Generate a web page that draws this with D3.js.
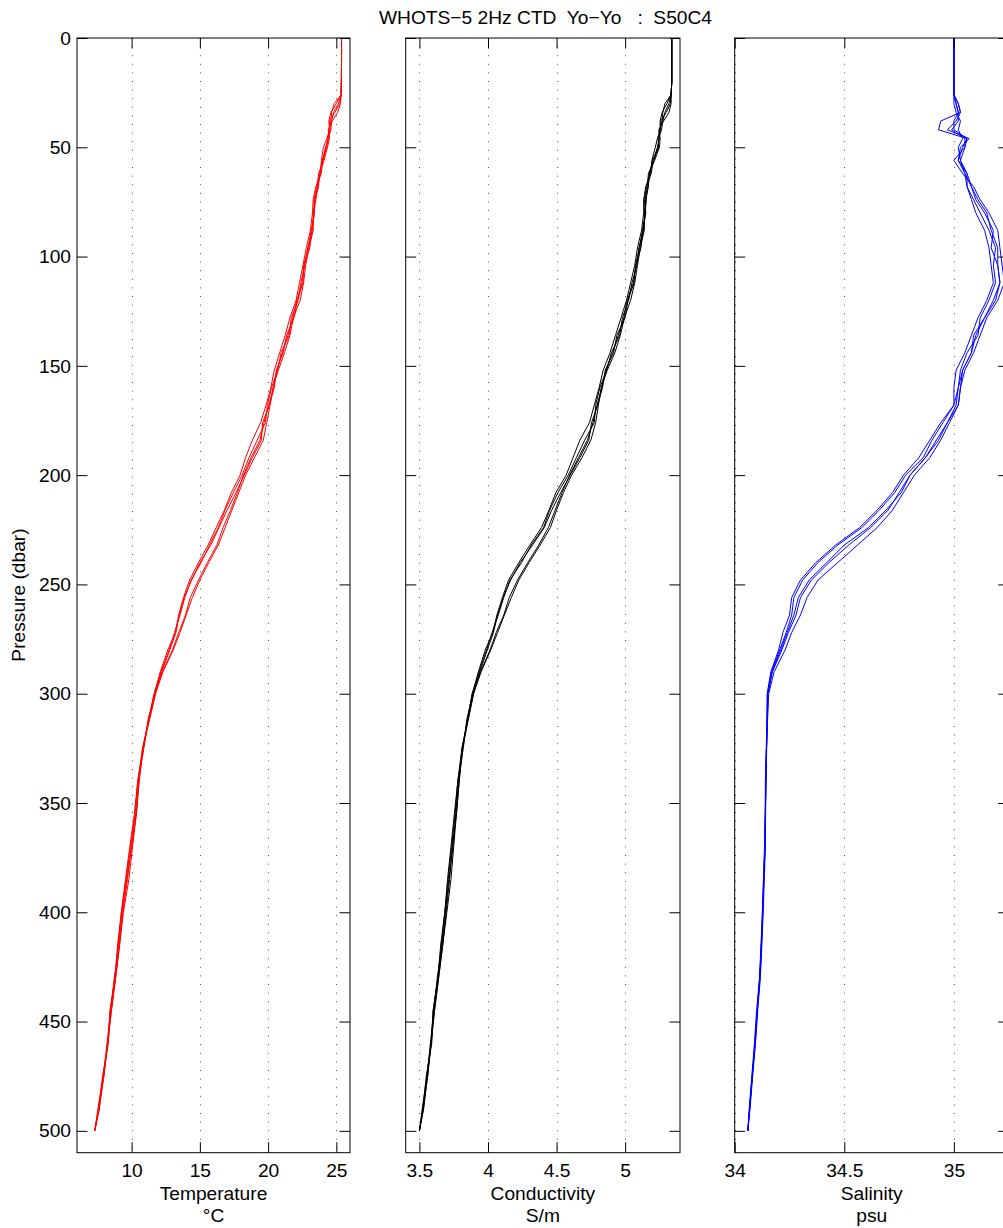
<!DOCTYPE html>
<html><head><meta charset="utf-8">
<script src="https://cdn.jsdelivr.net/npm/d3@7"></script>
<style>
body{margin:0;background:#fff}
svg{display:block}
text{font-family:"Liberation Sans",Arial,Helvetica,sans-serif;fill:#000}
</style>
</head><body>
<svg id="chart" width="1003" height="1228"></svg>
<script>
// ---------- DATA ----------
const chartTitle = "WHOTS\u22125 2Hz CTD  Yo\u2212Yo   :  S50C4";
const pressure = [0,10,20,26,30,34,38,42,46,50,56,62,68,74,80,88,96,104,112,120,128,136,144,152,160,168,176,184,192,200,208,216,224,232,240,248,256,264,272,280,290,300,312,325,340,355,370,385,400,415,430,445,460,475,490,500];

const temp1 = [25.38,25.38,25.37,25.35, 25.3,25.1,24.7,24.4,24.5,24.35, 24.1,23.75,23.7,23.45,23.3, 23.3,23.0,22.75,22.6,22.35, 21.85,21.6,21.2,20.75,20.35, 20.15,19.9,19.65,19.0,18.35, 17.85,17.35,16.85,16.35,15.65, 15.0,14.45,14.0,13.55,13.05, 12.3,11.75,11.3,10.85,10.55, 10.35,10.07,9.8,9.4,9.12, 8.83,8.52,8.25,7.97,7.63, 7.3];
const temp2 = [25.38,25.38,25.37,25.35, 25.0,24.6,24.45,24.5,24.3,24.05, 23.9,23.85,23.5,23.3,23.25, 23.1,22.8,22.55,22.3,22.05, 21.6,21.25,20.85,20.45,20.2, 19.85,19.45,18.85,18.35,17.95, 17.3,16.8,16.2,15.6,14.9, 14.25,13.8,13.45,13.2,12.65, 12.1,11.65,11.25,10.8,10.45, 10.2,9.87,9.55,9.25,9.02, 8.78,8.42,8.3,7.87,7.58, 7.3];
const temp3 = [25.38,25.38,25.37,25.35, 25.15,24.8,24.65,24.6,24.4,24.25, 23.95,23.8,23.65,23.4,23.4, 23.2,23.05,22.65,22.5,22.1, 21.8,21.45,21.05,20.65,20.4, 20.05,19.7,19.4,18.75,18.2, 17.75,17.25,16.7,16.25,15.55, 14.9,14.3,13.95,13.45,13.0, 12.25,11.7,11.2,10.9,10.5, 10.3,10.02,9.65,9.3,9.07, 8.73,8.47,8.2,7.92,7.53, 7.3];
const temp4 = [25.38,25.38,25.37,25.35, 24.85,24.65,24.6,24.45,24.45,24.2, 24.05,23.7,23.6,23.5,23.35, 23.25,22.9,22.7,22.4,22.2, 21.7,21.55,20.95,20.7,20.25, 19.95,19.8,19.2,18.6,18.1, 17.45,16.85,16.35,15.7,15.1, 14.35,13.9,13.55,13.15,12.75, 12.15,11.75,11.3,10.8,10.55, 10.35,9.97,9.7,9.35,9.12, 8.83,8.52,8.25,7.92,7.63, 7.3];
const temp5 = [25.38,25.38,25.37,25.35, 25.25,24.9,24.5,24.55,24.35,24.3, 24.0,23.9,23.55,23.35,23.4, 23.15,22.95,22.6,22.55,22.15, 21.9,21.35,21.1,20.6,20.45, 20.1,19.6,19.5,18.85,18.25, 17.65,17.0,16.4,15.8,15.0, 14.4,13.85,13.5,13.25,12.8, 12.2,11.65,11.25,10.85,10.45, 10.25,9.92,9.6,9.25,8.97, 8.78,8.42,8.25,7.97,7.58, 7.3];

const cond1 = [5.34,5.34,5.34,5.335, 5.335,5.32,5.28,5.245,5.255,5.25, 5.215,5.175,5.17,5.15,5.14, 5.14,5.11,5.09,5.07,5.04, 4.995,4.965,4.925,4.87,4.825, 4.805,4.785,4.75,4.685,4.61, 4.55,4.5,4.455,4.38,4.3, 4.225,4.17,4.12,4.07,4.02, 3.95,3.895,3.855,3.815,3.79, 3.77,3.75,3.73,3.7,3.67, 3.64,3.61,3.585,3.56,3.53, 3.5];
const cond2 = [5.34,5.34,5.34,5.335, 5.305,5.27,5.255,5.255,5.235,5.22, 5.195,5.185,5.15,5.135,5.135, 5.12,5.09,5.07,5.04,5.01, 4.97,4.93,4.89,4.84,4.81, 4.775,4.74,4.67,4.62,4.57, 4.495,4.445,4.39,4.305,4.225, 4.15,4.105,4.065,4.035,3.98, 3.93,3.885,3.85,3.81,3.78, 3.755,3.73,3.705,3.685,3.66, 3.635,3.6,3.59,3.55,3.525, 3.5];
const cond3 = [5.34,5.34,5.34,5.335, 5.32,5.29,5.275,5.265,5.245,5.24, 5.2,5.18,5.165,5.145,5.15, 5.13,5.115,5.08,5.06,5.015, 4.99,4.95,4.91,4.86,4.83, 4.795,4.765,4.725,4.66,4.595, 4.54,4.49,4.44,4.37,4.29, 4.215,4.155,4.115,4.06,4.015, 3.945,3.89,3.845,3.82,3.785, 3.765,3.745,3.715,3.69,3.665, 3.63,3.605,3.58,3.555,3.52, 3.5];
const cond4 = [5.34,5.34,5.34,5.335, 5.29,5.275,5.27,5.25,5.25,5.235, 5.21,5.17,5.16,5.155,5.145, 5.135,5.1,5.085,5.05,5.025, 4.98,4.96,4.9,4.865,4.815, 4.785,4.775,4.705,4.645,4.585, 4.51,4.45,4.405,4.315,4.245, 4.16,4.115,4.075,4.03,3.99, 3.935,3.895,3.855,3.81,3.79, 3.77,3.74,3.72,3.695,3.67, 3.64,3.61,3.585,3.555,3.53, 3.5];
const cond5 = [5.34,5.34,5.34,5.335, 5.33,5.3,5.26,5.26,5.24,5.245, 5.205,5.19,5.155,5.14,5.15, 5.125,5.105,5.075,5.065,5.02, 5.0,4.94,4.915,4.855,4.835, 4.8,4.755,4.735,4.67,4.6, 4.53,4.465,4.41,4.325,4.235, 4.165,4.11,4.07,4.04,3.995, 3.94,3.885,3.85,3.815,3.78, 3.76,3.735,3.71,3.685,3.655, 3.635,3.6,3.585,3.56,3.525, 3.5];

const sal1 = [35.0,35.0,35.0,35.0, 35.02,35.03,34.94,34.93,35.06,35.05, 35.0,35.04,35.09,35.12,35.16, 35.2,35.21,35.22,35.23,35.2, 35.15,35.12,35.09,35.05,35.03, 35.02,34.98,34.94,34.89,34.82, 34.77,34.72,34.65,34.56,34.47, 34.38,34.33,34.3,34.26,34.23, 34.18,34.155,34.15,34.146,34.143, 34.141,34.14,34.135,34.13,34.124, 34.117,34.105,34.095,34.082,34.07, 34.06];
const sal2 = [35.0,35.0,35.0,35.0, 35.0,35.01,35.03,35.02,35.04,35.02, 35.03,35.06,35.06,35.08,35.1, 35.14,35.16,35.17,35.18,35.15, 35.11,35.08,35.05,35.01,35.0, 35.0,34.94,34.89,34.84,34.77, 34.72,34.65,34.57,34.46,34.37, 34.3,34.26,34.25,34.22,34.2, 34.165,34.148,34.147,34.144,34.14, 34.139,34.136,34.131,34.126,34.12, 34.113,34.1,34.09,34.078,34.066, 34.06];
const sal3 = [35.0,35.0,35.0,35.0, 35.01,35.02,35.0,35.0,35.06,35.04, 35.02,35.05,35.08,35.1,35.14, 35.18,35.17,35.2,35.21,35.18, 35.14,35.1,35.08,35.04,35.02, 35.01,34.97,34.92,34.87,34.8, 34.75,34.7,34.62,34.52,34.43, 34.35,34.3,34.28,34.245,34.215, 34.172,34.152,34.149,34.145,34.142, 34.14,34.138,34.133,34.128,34.122, 34.115,34.103,34.093,34.08,34.068, 34.06];
const sal4 = [35.0,35.0,35.0,35.0, 35.01,35.02,35.02,34.99,35.05,35.05, 35.03,35.05,35.06,35.09,35.12, 35.16,35.19,35.18,35.19,35.16, 35.12,35.11,35.06,35.03,35.02, 35.0,34.95,34.9,34.86,34.78, 34.73,34.66,34.58,34.47,34.38, 34.31,34.27,34.26,34.235,34.205, 34.168,34.15,34.148,34.145,34.142, 34.14,34.137,34.132,34.127,34.121, 34.114,34.102,34.092,34.08,34.068, 34.06];
const sal5 = [35.0,35.0,35.0,35.0, 35.02,35.03,35.01,34.97,35.07,35.03, 35.02,35.06,35.08,35.11,35.15, 35.17,35.2,35.2,35.21,35.19, 35.14,35.09,35.08,35.04,35.03, 35.02,34.97,34.93,34.87,34.8, 34.76,34.69,34.61,34.5,34.42, 34.34,34.29,34.27,34.24,34.21, 34.17,34.15,34.148,34.145,34.142, 34.14,34.138,34.133,34.128,34.122, 34.115,34.103,34.093,34.08,34.068, 34.06];

const pressureTicks = [0,50,100,150,200,250,300,350,400,450,500];
const tempTicks = [10,15,20,25];
const condTicks = [3.5,4,4.5,5];
const salTicks = [34,34.5,35];

// ---------- LAYOUT ----------
const svg = d3.select("#chart");
const FONT = 19.2;
const yTop = 38, yBot = 1152.7;
const y = d3.scaleLinear().domain([0,510]).range([yTop,yBot]);
const TL = 10.5;

const panels = [
  {x0:77,    x1:350,    domain:[6,26],       ticks:tempTicks, casts:[temp1,temp2,temp3,temp4,temp5], color:"#ff0000", label:"Temperature", unit:"\u00B0C", ylabels:true},
  {x0:405.7, x1:680,    domain:[3.4,5.4],    ticks:condTicks, casts:[cond1,cond2,cond3,cond4,cond5], color:"#000000", label:"Conductivity", unit:"S/m", ylabels:false},
  {x0:734.7, x1:1008.7, domain:[34,35.25],   ticks:salTicks,  casts:[sal1,sal2,sal3,sal4,sal5],      color:"#0000ff", label:"Salinity", unit:"psu", ylabels:false}
];

panels.forEach((pn,i) => {
  const x = d3.scaleLinear().domain(pn.domain).range([pn.x0,pn.x1]);
  const g = svg.append("g");
  const clipId = "clip"+i;
  svg.append("clipPath").attr("id",clipId).append("rect")
     .attr("x",pn.x0).attr("y",yTop).attr("width",pn.x1-pn.x0).attr("height",yBot-yTop);

  // dotted grid
  g.append("g").selectAll("line").data(pn.ticks).join("line")
    .attr("x1",d=>Math.round(x(d))+0.5).attr("x2",d=>Math.round(x(d))+0.5)
    .attr("y1",yTop).attr("y2",yBot)
    .attr("stroke","#555").attr("stroke-width",1).attr("stroke-dasharray","1,7.6");

  // profiles
  const line = d3.line().x(d=>x(d[1])).y(d=>y(d[0]));
  g.append("g").attr("clip-path",`url(#${clipId})`).selectAll("path").data(pn.casts).join("path")
    .attr("d",c=>line(pressure.map((p,k)=>[p,c[k]])))
    .attr("fill","none").attr("stroke",pn.color).attr("stroke-width",1).attr("stroke-linejoin","round");

  // axes
  const fmt = d3.format("~g");
  g.append("g").attr("transform",`translate(0,${yBot})`)
    .call(d3.axisBottom(x).tickValues(pn.ticks).tickSize(-TL).tickPadding(10.3).tickFormat(fmt));
  g.append("g").attr("transform",`translate(0,${yTop})`)
    .call(d3.axisTop(x).tickValues(pn.ticks).tickSize(-TL).tickFormat(""));
  g.append("g").attr("transform",`translate(${pn.x0},0)`)
    .call(d3.axisLeft(y).tickValues(pressureTicks).tickSize(-TL).tickPadding(6).tickFormat(pn.ylabels? fmt : ""));
  g.append("g").attr("transform",`translate(${pn.x1},0)`)
    .call(d3.axisRight(y).tickValues(pressureTicks).tickSize(-TL).tickFormat(""));
  g.selectAll(".domain").remove();
  g.selectAll(".tick line").attr("stroke","#000");
  g.selectAll(".tick text").attr("font-size",FONT).attr("font-family",null).attr("fill","#000");

  // frame
  g.append("rect").attr("x",pn.x0).attr("y",yTop).attr("width",pn.x1-pn.x0).attr("height",yBot-yTop)
    .attr("fill","none").attr("stroke","#000").attr("stroke-width",1);

  // axis labels
  const cx = (pn.x0+pn.x1)/2;
  g.append("text").attr("x",cx).attr("y",1200).attr("text-anchor","middle").attr("font-size",FONT).text(pn.label);
  g.append("text").attr("x",cx).attr("y",1221.7).attr("text-anchor","middle").attr("font-size",FONT).text(pn.unit);
});

// y label
svg.append("text").attr("transform","translate(25,595) rotate(-90)").attr("text-anchor","middle")
  .attr("font-size",FONT).text("Pressure (dbar)");

// title
svg.append("text").attr("x",545.5).attr("y",24).attr("text-anchor","middle").attr("font-size",FONT)
  .style("white-space","pre").text(chartTitle);
</script>
</body></html>
